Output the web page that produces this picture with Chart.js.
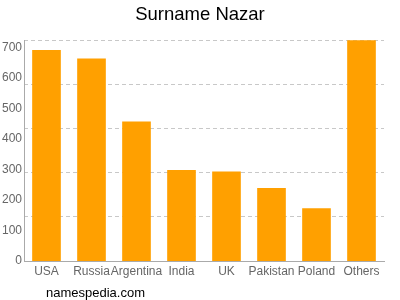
<!DOCTYPE html>
<html>
<head>
<meta charset="utf-8">
<script src="https://cdn.jsdelivr.net/npm/chart.js@4"></script>
<style>
  html, body { margin: 0; padding: 0; background: #fff; }
  #wrap { position: relative; width: 400px; height: 300px; }
  #footer { position: absolute; left: 46px; top: 285px; font: 13px "Liberation Sans", Arial, sans-serif; color: #000; }
</style>
</head>
<body>
<div id="wrap">
  <canvas id="chart" width="400" height="300"></canvas>
  <div id="footer">namespedia.com</div>
</div>
<script>
// data
const countries = ['USA', 'Russia', 'Argentina', 'India', 'UK', 'Pakistan', 'Poland', 'Others'];
const counts = [690, 662, 456, 297, 292, 238, 172, 760];
const yTicks = [0, 100, 200, 300, 400, 500, 600, 700];
const yMax = 723;
const gridLines = [0, 144.6, 289.2, 433.8, 578.4, 723];

const font = { family: '"Liberation Sans", Arial, sans-serif', size: 12 };

new Chart(document.getElementById('chart'), {
    type: 'bar',
    data: {
        labels: countries,
        datasets: [{
            data: counts,
            backgroundColor: '#ffa000',
            barThickness: 28,
            yAxisID: 'y'
        }]
    },
    options: {
        responsive: false,
        animation: false,
        layout: { padding: 0 },
        plugins: {
            legend: { display: false },
            tooltip: { enabled: false },
            title: {
                display: true,
                text: 'Surname Nazar',
                color: '#000',
                font: { family: font.family, size: 18.5, weight: 'normal' },
                padding: { top: 4, bottom: 14 }
            }
        },
        scales: {
            x: {
                offset: true,
                grid: { display: false, drawTicks: false },
                border: { display: true, color: '#aaa', width: 1 },
                ticks: { color: '#666', font: font, padding: 3, maxRotation: 0, autoSkip: false },
                afterFit: function(scale) { scale.height = 39; }
            },
            y: {
                min: 0,
                max: yMax,
                position: 'left',
                grid: { display: false, drawTicks: false },
                border: { display: true, color: '#aaa', width: 1 },
                afterBuildTicks: function(scale) {
                    scale.ticks = yTicks.map(function(v) { return { value: v }; });
                },
                ticks: { color: '#666', font: font, padding: 2 },
                afterFit: function(scale) { scale.width = 24; }
            },
            grid: {
                min: 0,
                max: yMax,
                position: 'right',
                afterBuildTicks: function(scale) {
                    scale.ticks = gridLines.map(function(v) { return { value: v }; });
                },
                grid: { display: true, color: '#c8c8c8', lineWidth: 1, drawTicks: false },
                border: { display: false, dash: [4, 3] },
                ticks: { display: false },
                afterFit: function(scale) { scale.width = 16; }
            }
        }
    }
});
</script>
</body>
</html>
